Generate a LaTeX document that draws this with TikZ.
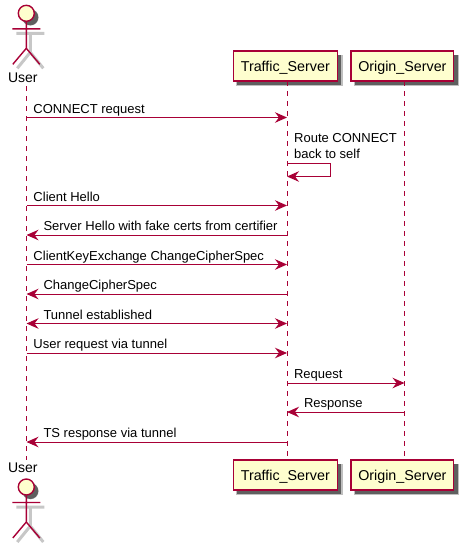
\documentclass[tikz,border=0pt]{standalone}
\usepackage{fontspec}
\setmainfont{Liberation Sans}
\usepackage{tikz}
\usetikzlibrary{arrows.meta, positioning, shadows}

\definecolor{umlline}{HTML}{A80036}
\definecolor{umlfill}{HTML}{FEFECE}

\begin{document}
\begin{tikzpicture}[
    x=1pt, y=-1pt,
    >={Stealth[length=12pt, width=10.5pt, inset=4pt]},
    softshadow/.style={
      drop shadow={shadow xshift=4pt, shadow yshift=-4pt, shadow scale=1.03, fill=black, opacity=.25},
      drop shadow={shadow xshift=4pt, shadow yshift=-4pt, fill=black, opacity=.5}},
    participant/.style={rectangle, draw=umlline, fill=umlfill, line width=1.4pt, minimum height=30pt,
      inner xsep=0pt, text depth=2pt, text height=12pt, font=\fontsize{14.3}{16}\selectfont, softshadow},
    actorname/.style={inner sep=0pt, minimum height=14pt, font=\fontsize{14}{16}\selectfont},
    lifeline/.style={draw=umlline, line width=1pt, dash pattern=on 5pt off 5pt},
    every edge/.style={draw=umlline, line width=1pt},
    msgtext/.style={at start, anchor=base west, inner sep=0pt, yshift=4.2pt, font=\fontsize{13}{15}\selectfont},
    righttext/.style={msgtext, xshift=6.5pt},
    lefttext/.style={msgtext, xshift=16.5pt},
    actorman/.pic={
      \draw[black!22, line width=3pt] (-10,20) -- (18,20) (4,20) -- (4,39) -- (-9,55) (4,39) -- (17,55);
      \node[circle, draw=umlline, fill=umlfill, line width=1.4pt, minimum size=16pt, inner sep=0pt, softshadow] (-head) at (0,0) {};
      \draw[umlline, line width=1.4pt] (-head.south) -- (0,35) -- (-13.5,51) (0,35) -- (13.5,51) (-14,15.5) -- (14,15.5);
    }
  ]
  \useasboundingbox (0,0) rectangle (463,547);

  % column heads
  \pic (mantop) at (26.3,13.3) {actorman};
  \node[actorname] (usertop) at (22.8,78) {User};
  \node[participant, minimum width=104pt] (traffictop) at (285.3,66) {Traffic\_Server};
  \node[participant, minimum width=102.5pt] (origintop) at (402.4,66) {Origin\_Server};

  % column feet
  \node[actorname] (userbot) at (22.8,468) {User};
  \pic (manbot) at (26.3,487) {actorman};
  \node[participant, minimum width=104pt] (trafficbot) at (285.3,475) {Traffic\_Server};
  \node[participant, minimum width=102.5pt] (originbot) at (402.4,475) {Origin\_Server};

  % message rows
  \foreach \row/\ypos in {a/117.5, b/163.5, bb/176.5, c/205.5, d/235, e/264.5, f/294, g/323.5, h/353, i/383, j/412, k/442} {
    \coordinate (user\row) at (26.5,\ypos);
    \coordinate (traffic\row) at (287,\ypos);
    \coordinate (origin\row) at (404.5,\ypos);
    \coordinate (self\row) at (330,\ypos);
  }
  \coordinate (usertopend) at (26.5,86);
  \coordinate (userbotend) at (26.5,460);
  \coordinate (traffictopend) at (287,81);
  \coordinate (trafficbotend) at (287,460);
  \coordinate (origintopend) at (404.5,81);
  \coordinate (originbotend) at (404.5,460);

  \draw[lifeline] (usertopend) -- (userbotend);
  \draw[lifeline] (traffictopend) -- (trafficbotend);
  \draw[lifeline] (origintopend) -- (originbotend);

  \path
    (usera) edge[->] node[righttext] {CONNECT request} (traffica)
    (userc) edge[->] node[righttext] {Client Hello} (trafficc)
    (userd) edge[<-] node[lefttext] {Server Hello with fake certs from certifier} (trafficd)
    (usere) edge[->] node[righttext] {ClientKeyExchange ChangeCipherSpec} (traffice)
    (userf) edge[<-] node[lefttext] {ChangeCipherSpec} (trafficf)
    (userg) edge[<->] node[lefttext] {Tunnel established} (trafficg)
    (userh) edge[->] node[righttext] {User request via tunnel} (traffich)
    (traffici) edge[->] node[righttext] {Request} (origini)
    (trafficj) edge[<-] node[lefttext] {Response} (originj)
    (userk) edge[<-] node[lefttext] {TS response via tunnel} (traffick)
  ;

  % self call
  \draw[umlline, line width=1pt, ->] (trafficb) -- (selfb) -- (selfbb) -- (trafficbb);
  \node[anchor=base west, inner sep=0pt, align=left, font=\fontsize{13}{15.5}\selectfont] (selftext) at (294,158) {Route CONNECT\\back to self};
\end{tikzpicture}
\end{document}
